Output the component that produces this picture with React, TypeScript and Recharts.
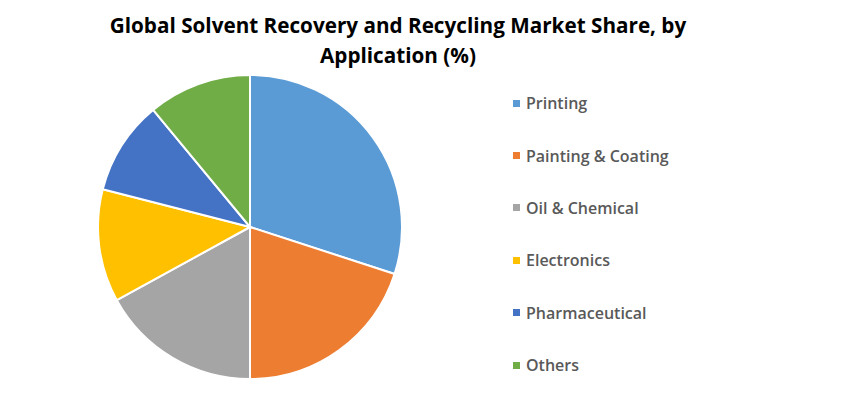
import { PieChart, Pie, Cell } from "recharts";

const categories = [
  "Printing",
  "Painting & Coating",
  "Oil & Chemical",
  "Electronics",
  "Pharmaceutical",
  "Others",
];
const shares = [30, 20, 17, 12, 10, 11];
const COLORS = ["#5B9BD5", "#ED7D31", "#A5A5A5", "#FFC000", "#4472C4", "#70AD47"];

const chartData = categories.map((name, i) => ({ name, value: shares[i] }));

export default function App() {
  return (
    <div
      style={{
        position: "absolute",
        left: 0,
        top: 0,
        width: 850,
        height: 397,
        background: "white",
      }}
    >
      <div
        style={{
          position: "absolute",
          left: 0,
          top: 10,
          width: 796,
          textAlign: "center",
          fontFamily: "'Open Sans', sans-serif",
          fontWeight: 700,
          fontSize: 20.7,
          lineHeight: "30px",
          color: "#000",
        }}
      >
        Global Solvent Recovery and Recycling Market Share, by
        <br />
        Application (%)
      </div>
      <PieChart width={850} height={397} margin={{ top: 0, right: 0, bottom: 0, left: 0 }}>
        <Pie
          data={chartData}
          dataKey="value"
          nameKey="name"
          cx={250}
          cy={227}
          outerRadius={152}
          startAngle={90}
          endAngle={-270}
          stroke="#FFFFFF"
          strokeWidth={2}
          isAnimationActive={false}
        >
          {chartData.map((entry, index) => (
            <Cell key={`cell-${index}`} fill={COLORS[index % COLORS.length]} />
          ))}
        </Pie>
      </PieChart>
      <div style={{ position: "absolute", left: 513, top: 77 }}>
        {categories.map((name, i) => (
          <div
            key={name}
            style={{
              display: "flex",
              alignItems: "center",
              height: 52.4,
              fontFamily: "'Open Sans', sans-serif",
              fontWeight: 600,
              fontSize: 16,
              color: "#595959",
            }}
          >
            <span
              style={{
                width: 7,
                height: 7,
                background: COLORS[i],
                marginRight: 6,
                display: "inline-block",
              }}
            />
            {name}
          </div>
        ))}
      </div>
    </div>
  );
}
